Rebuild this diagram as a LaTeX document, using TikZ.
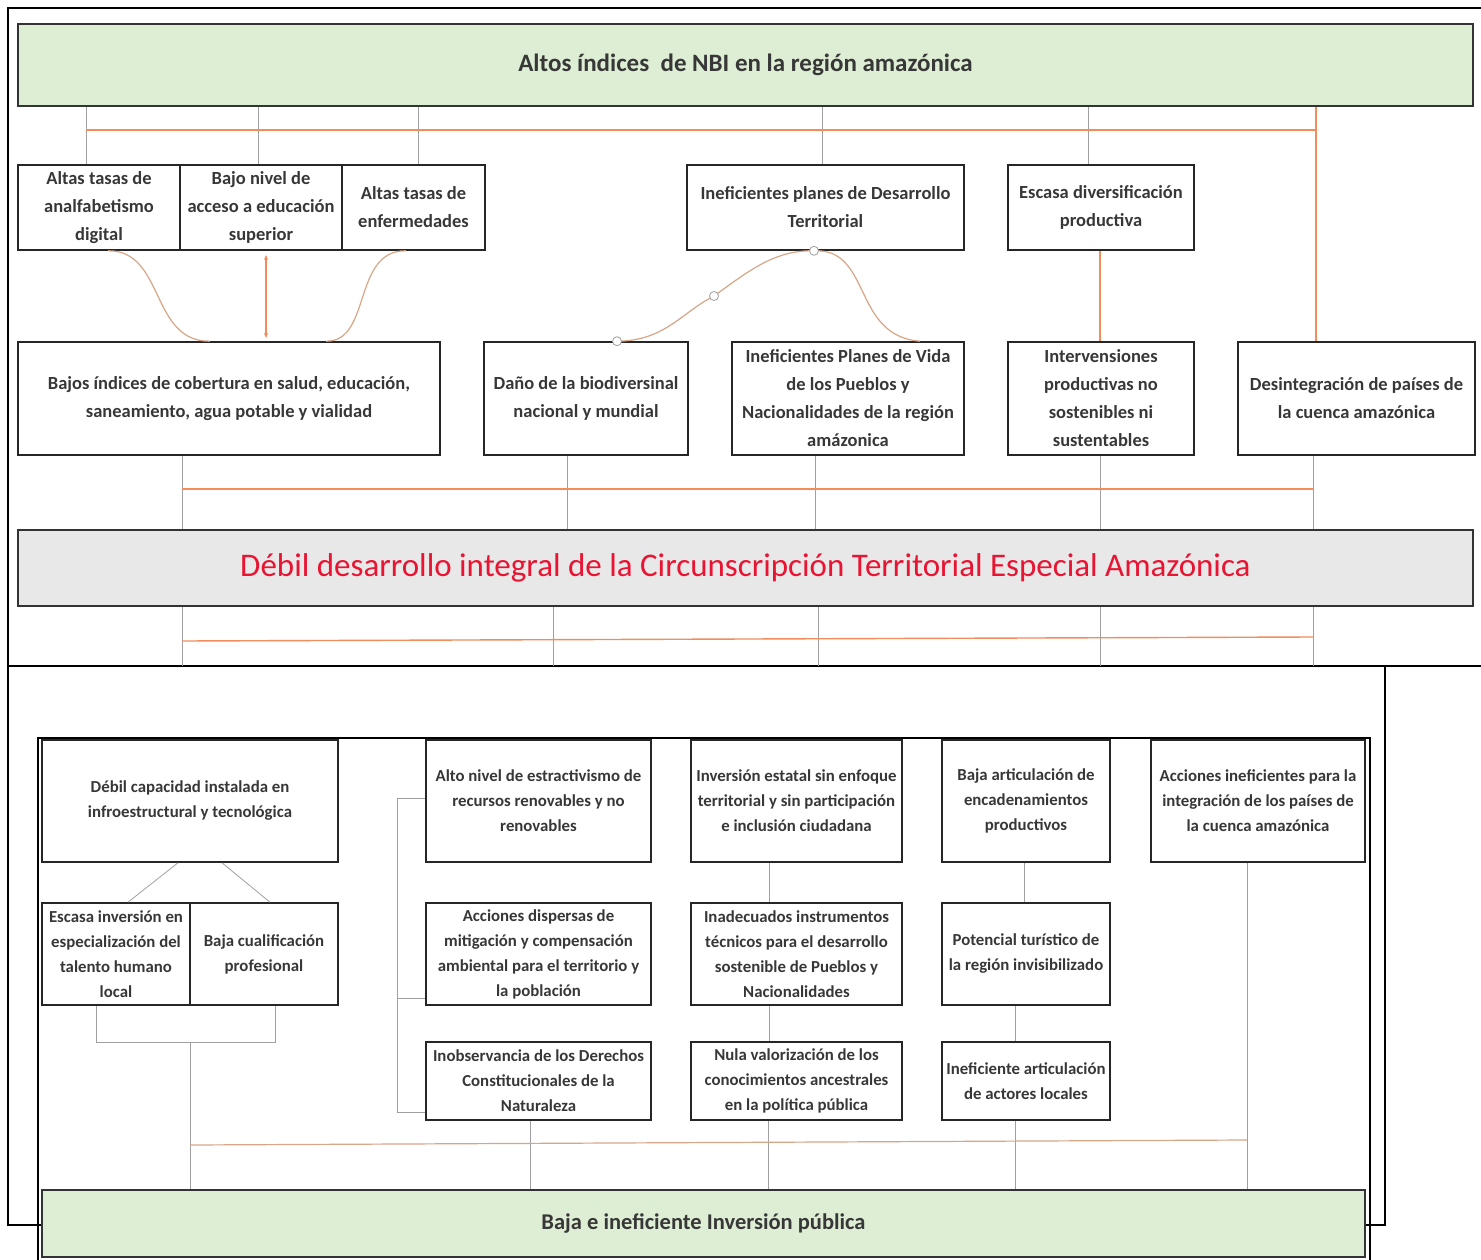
\documentclass[tikz,border=0pt]{standalone}
\usepackage{fontspec}
\setmainfont{Carlito}
\usetikzlibrary{arrows.meta,calc}
\definecolor{txt}{RGB}{55,55,55}
\definecolor{org}{RGB}{242,140,90}
\definecolor{gln}{RGB}{160,160,160}
\definecolor{cln}{RGB}{215,165,135}
\definecolor{grn}{RGB}{222,238,212}
\definecolor{gry}{RGB}{232,232,232}
\definecolor{redt}{RGB}{232,20,50}
\tikzset{
 box/.style={draw=black!85, line width=1.6pt, align=center, inner xsep=1pt, inner ysep=0pt,
   font=\fontsize{18.5}{28}\selectfont\bfseries, text=txt},
 sbox/.style={box, font=\fontsize{16.8}{25}\selectfont\bfseries},
 oline/.style={draw=org, line width=1.4pt},
 gline/.style={draw=gln, line width=0.8pt},
 cline/.style={draw=cln, line width=1.2pt},
 frame/.style={draw=black, line width=1.5pt},
 handle/.style={circle, draw=gln, fill=white, line width=0.8pt, minimum size=9pt, inner sep=0pt},
 banner/.style={draw=black!80, line width=1.8pt, inner sep=0pt},
}
\newcommand\bx[7]{\node[#6, minimum width={#4-#2}, minimum height={#5-#3}] (#1) at ({(#2+#4)/2},{(#3+#5)/2}) {#7};}
\begin{document}
\begin{tikzpicture}[x=1pt,y=-1pt]
\useasboundingbox (0,0) rectangle (1481,1260);
% frames
\draw[frame] (8,666) -- (8,8) -- (1481,8);
\draw[frame] (8,666) -- (1481,666);
\draw[frame] (8,666) -- (8,1225) -- (1385,1225) -- (1385,666);
\draw[frame] (38,1260) -- (38,738) -- (1370,738) -- (1370,1260);
% banners
\node[banner, fill=grn, minimum width=1455, minimum height=82, font=\fontsize{25}{28}\selectfont\bfseries, text=txt] (top) at (745.5,65) {Altos índices\ \ de NBI en la región amazónica};
\node[banner, fill=gry, minimum width=1455, minimum height=76, font=\fontsize{33}{36}\selectfont, text=redt] (mid) at (745.5,568) {Débil desarrollo integral de la Circunscripción Territorial Especial Amazónica};
% row 1
\bx{a1}{18}{165}{180}{250}{box}{Altas tasas de\\analfabetismo\\digital}
\bx{a2}{180}{165}{342}{250}{box}{Bajo nivel de\\acceso a educación\\superior}
\bx{a3}{342}{165}{485}{250}{box}{Altas tasas de\\enfermedades}
\bx{a4}{687}{165}{964}{250}{box}{Ineficientes planes de Desarrollo\\Territorial}
\bx{a5}{1008}{165}{1194}{250}{box}{Escasa diversificación\\productiva}
% row 2
\bx{b1}{18}{342}{440}{455}{box}{Bajos índices de cobertura en salud, educación,\\saneamiento, agua potable y vialidad}
\bx{b2}{484}{342}{688}{455}{box}{Daño de la biodiversinal\\nacional y mundial}
\bx{b3}{732}{342}{964}{455}{box}{Ineficientes Planes de Vida\\de los Pueblos y\\Nacionalidades de la región\\amázonica}
\bx{b4}{1008}{342}{1194}{455}{box}{Intervensiones\\productivas no\\sostenibles ni\\sustentables}
\bx{b5}{1238}{342}{1475}{455}{box}{Desintegración de países de\\la cuenca amazónica}
% top connectors
\foreach \x/\n in {86/a1,258/a2,418/a3,822/a4,1088/a5}
  \draw[gline] (\x,0 |- top.south) -- (\x,0 |- \n.north);
\coordinate (busAL) at (86,130);
\coordinate (busAR) at (1316,130);
\draw[oline] (busAL) -- (busAR);
\draw[oline] (1316,0 |- top.south) -- (1316,0 |- b5.north);
\draw[cline] (108,0 |- a1.south) .. controls (165,250) and (150,342) .. (210,0 |- b1.north);
\draw[oline, {Stealth[length=5pt,width=4pt]}-{Stealth[length=5pt,width=4pt]}] (266,255) -- (266,338);
\draw[cline] (406,0 |- a3.south) .. controls (352,250) and (372,342) .. (326,0 |- b1.north);
\draw[cline] (617,0 |- b2.north) .. controls (665,341) and (682,312) .. (714,296) .. controls (750,270) and (775,250) .. (814,0 |- a4.south);
\draw[cline] (814,0 |- a4.south) .. controls (872,248) and (852,336) .. (920,0 |- b3.north);
\node[handle] (h1) at (617,0 |- b2.north) {};
\node[handle] (h2) at (714,296) {};
\node[handle] (h3) at (814,0 |- a4.south) {};
\draw[oline] (1100,0 |- a5.south) -- (1100,0 |- b4.north);
% row2 to mid
\foreach \x/\n in {182/b1,567/b2,815/b3,1100/b4,1313/b5}
  \draw[gline] (\x,0 |- \n.south) -- (\x,0 |- mid.north);
\coordinate (busBL) at (182,489);
\coordinate (busBR) at (1313,489);
\draw[oline] (busBL) -- (busBR);
\foreach \x in {182,553,818,1100,1313}
  \draw[gline] (\x,0 |- mid.south) -- (\x,666);
\coordinate (busCL) at (182,641);
\coordinate (busCR) at (1313,637);
\draw[oline] (busCL) -- (busCR);
% bottom section
\bx{c1}{42}{740}{338}{862}{sbox}{Débil capacidad instalada en\\infroestructural y tecnológica}
\bx{c2}{42}{903}{190}{1005}{sbox}{Escasa inversión en\\especialización del\\talento humano\\local}
\bx{c3}{190}{903}{338}{1005}{sbox}{Baja cualificación\\profesional}
\bx{d1}{426}{740}{651}{862}{sbox}{Alto nivel de estractivismo de\\recursos renovables y no\\renovables}
\bx{d2}{426}{903}{651}{1005}{sbox}{Acciones dispersas de\\mitigación y compensación\\ambiental para el territorio y\\la población}
\bx{d3}{426}{1042}{651}{1120}{sbox}{Inobservancia de los Derechos\\Constitucionales de la\\Naturaleza}
\bx{e1}{691}{740}{902}{862}{sbox}{Inversión estatal sin enfoque\\territorial y sin participación\\e inclusión ciudadana}
\bx{e2}{691}{903}{902}{1005}{sbox}{Inadecuados instrumentos\\técnicos para el desarrollo\\sostenible de Pueblos y\\Nacionalidades}
\bx{e3}{691}{1042}{902}{1120}{sbox}{Nula valorización de los\\conocimientos ancestrales\\en la política pública}
\bx{f1}{942}{740}{1110}{862}{sbox}{Baja articulación de\\encadenamientos\\productivos}
\bx{f2}{942}{903}{1110}{1005}{sbox}{Potencial turístico de\\la región invisibilizado}
\bx{f3}{942}{1042}{1110}{1120}{sbox}{Ineficiente articulación\\de actores locales}
\bx{g1}{1151}{740}{1365}{862}{sbox}{Acciones ineficientes para la\\integración de los países de\\la cuenca amazónica}
\node[banner, fill=grn, minimum width=1323, minimum height=67, font=\fontsize{22.5}{25}\selectfont\bfseries, text=txt] (bot) at (703.5,1223.5) {Baja e ineficiente Inversión pública};
% bottom connectors
\draw[gline] (178,0 |- c1.south) -- (128,0 |- c2.north);
\draw[gline] (222,0 |- c1.south) -- (270,0 |- c3.north);
\draw[gline] (96,0 |- c2.south) -- (96,1042) -- (275,1042) -- (275,0 |- c3.south);
\draw[gline] (190,1042) -- (190,0 |- bot.north);
\draw[gline] (d1.west |- 0,798) -- (397,798) -- (397,1112) -- (d3.west |- 0,1112);
\draw[gline] (397,998) -- (d2.west |- 0,998);
\draw[gline] (769,0 |- e1.south) -- (769,0 |- e2.north);
\draw[gline] (769,0 |- e2.south) -- (769,0 |- e3.north);
\draw[gline] (1024,0 |- f1.south) -- (1024,0 |- f2.north);
\draw[gline] (1015,0 |- f2.south) -- (1015,0 |- f3.north);
\draw[gline] (1247,0 |- g1.south) -- (1247,0 |- bot.north);
\foreach \x/\n in {530/d3,768/e3,1015/f3}
  \draw[gline] (\x,0 |- \n.south) -- (\x,0 |- bot.north);
\coordinate (busDL) at (190,1145);
\coordinate (busDR) at (1247,1140);
\draw[cline] (busDL) -- (busDR);
\end{tikzpicture}
\end{document}
